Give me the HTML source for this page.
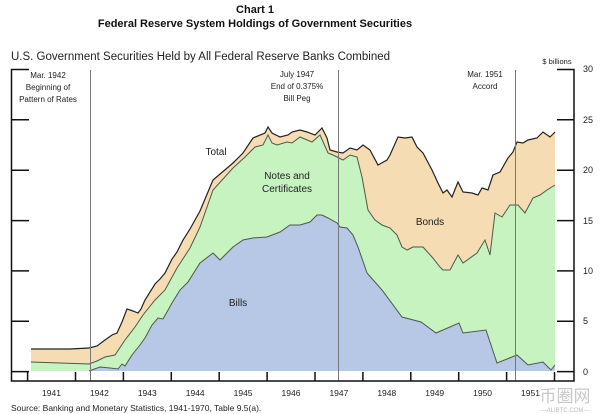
<!DOCTYPE html>
<html><head><meta charset="utf-8"><style>
body{margin:0;background:#fff;}
svg{display:block;font-family:"Liberation Sans",Arial,sans-serif;}
</style></head><body>
<svg width="600" height="414" viewBox="0 0 600 414" xmlns="http://www.w3.org/2000/svg">
<text x="255" y="13" text-anchor="middle" font-size="11" font-weight="bold" fill="#111">Chart 1</text>
<text x="255" y="27" text-anchor="middle" font-size="11" font-weight="bold" fill="#111">Federal Reserve System Holdings of Government Securities</text>
<text x="11" y="60" font-size="11.5" fill="#222">U.S. Government Securities Held by All Federal Reserve Banks Combined</text>
<text x="557" y="64" text-anchor="middle" font-size="7.5" fill="#222">$ billions</text>
<polygon fill="#f6dcb2" points="31,371 31,349 70,349 89,348 97,346 105,340 112,335 117,333 122,322 127,309 133,311 138,313 141,309 145,300 155,284 160,279 165,273 172,259 177,252 183,240 190,229 200,211 213,180 233,163 243,153 253,138 265,133 268,127 272,133 280,137 288,135 292,132 300,130 307,132 315,135 322,128 327,138 330,150 337,152 343,153 350,148 357,150 363,145 370,150 378,165 387,160 390,155 398,137 405,138 412,137 417,147 423,153 432,170 438,183 443,193 447,190 452,197 458,182 463,192 472,193 478,195 482,188 488,190 493,175 500,172 508,158 513,152 517,142 523,143 528,140 537,138 543,132 550,137 555,132 555,371"/>
<polygon fill="#c6f3c0" points="31,371 31,362 89,364 97,361 105,357 115,355 125,340 135,327 143,315 155,300 165,290 177,268 190,248 200,227 213,190 233,168 245,157 255,147 263,145 268,135 272,143 277,145 287,142 292,143 300,137 312,142 320,135 328,153 333,155 343,160 350,155 357,157 362,177 368,210 375,220 382,225 390,228 397,235 402,247 407,250 413,247 423,247 432,257 440,267 443,270 450,270 458,255 463,263 477,253 485,240 490,255 495,213 502,217 510,205 518,205 525,213 533,198 540,195 547,190 555,185 555,371"/>
<polygon fill="#b7c7e6" points="89,371 100,367 110,368 118,369 122,364 125,366 132,355 140,345 145,338 152,325 158,318 163,319 172,303 180,290 188,282 200,263 213,253 220,260 233,247 243,240 253,238 267,237 280,232 290,225 300,225 310,222 317,215 322,215 328,218 337,223 340,227 347,228 353,235 358,247 367,273 382,290 402,317 421,322 436,333 459,323 463,333 486,330 497,363 517,355 528,365 543,362 551,370 555,365 555,371"/>
<polyline fill="none" stroke="#222" stroke-width="1.2" points="31,349 70,349 89,348 97,346 105,340 112,335 117,333 122,322 127,309 133,311 138,313 141,309 145,300 155,284 160,279 165,273 172,259 177,252 183,240 190,229 200,211 213,180 233,163 243,153 253,138 265,133 268,127 272,133 280,137 288,135 292,132 300,130 307,132 315,135 322,128 327,138 330,150 337,152 343,153 350,148 357,150 363,145 370,150 378,165 387,160 390,155 398,137 405,138 412,137 417,147 423,153 432,170 438,183 443,193 447,190 452,197 458,182 463,192 472,193 478,195 482,188 488,190 493,175 500,172 508,158 513,152 517,142 523,143 528,140 537,138 543,132 550,137 555,132"/>
<polyline fill="none" stroke="#4a5a4a" stroke-width="1" points="31,362 89,364 97,361 105,357 115,355 125,340 135,327 143,315 155,300 165,290 177,268 190,248 200,227 213,190 233,168 245,157 255,147 263,145 268,135 272,143 277,145 287,142 292,143 300,137 312,142 320,135 328,153 333,155 343,160 350,155 357,157 362,177 368,210 375,220 382,225 390,228 397,235 402,247 407,250 413,247 423,247 432,257 440,267 443,270 450,270 458,255 463,263 477,253 485,240 490,255 495,213 502,217 510,205 518,205 525,213 533,198 540,195 547,190 555,185"/>
<polyline fill="none" stroke="#4a5a4a" stroke-width="1" points="89,371 100,367 110,368 118,369 122,364 125,366 132,355 140,345 145,338 152,325 158,318 163,319 172,303 180,290 188,282 200,263 213,253 220,260 233,247 243,240 253,238 267,237 280,232 290,225 300,225 310,222 317,215 322,215 328,218 337,223 340,227 347,228 353,235 358,247 367,273 382,290 402,317 421,322 436,333 459,323 463,333 486,330 497,363 517,355 528,365 543,362 551,370 555,365"/>
<g stroke="#777" stroke-width="1">
<line x1="90.5" y1="70" x2="90.5" y2="381"/>
<line x1="338.5" y1="70" x2="338.5" y2="381"/>
<line x1="515.5" y1="70" x2="515.5" y2="381"/>
</g>
<g stroke="#111" stroke-width="1.5" fill="none">
<polyline points="29,69.5 11.5,69.5 11.5,381 574,381 574,69.5 557,69.5"/>
<line x1="11.5" y1="119.8" x2="29" y2="119.8"/><line x1="11.5" y1="170.2" x2="29" y2="170.2"/><line x1="11.5" y1="220.6" x2="29" y2="220.6"/><line x1="11.5" y1="270.9" x2="29" y2="270.9"/><line x1="11.5" y1="321.3" x2="29" y2="321.3"/><line x1="11.5" y1="371.6" x2="29" y2="371.6"/>
<line x1="557" y1="119.8" x2="574" y2="119.8"/><line x1="557" y1="170.2" x2="574" y2="170.2"/><line x1="557" y1="220.6" x2="574" y2="220.6"/><line x1="557" y1="270.9" x2="574" y2="270.9"/><line x1="557" y1="321.3" x2="574" y2="321.3"/><line x1="557" y1="371.6" x2="574" y2="371.6"/>
<path d="M27.6 381v-9M75.5 381v-9M123.4 381v-9M171.3 381v-9M219.2 381v-9M267.1 381v-9M315 381v-9M362.9 381v-9M410.8 381v-9M458.7 381v-9M506.6 381v-9M554.5 381v-9"/>
</g>
<g font-size="9" fill="#222">
<text x="583" y="72">30</text><text x="583" y="123">25</text><text x="583" y="173">20</text><text x="583" y="224">15</text><text x="583" y="274">10</text><text x="583" y="324">5</text><text x="583" y="375">0</text>
</g>
<g font-size="8.5" fill="#222" text-anchor="middle">
<text x="51.5" y="396">1941</text><text x="99.4" y="396">1942</text><text x="147.3" y="396">1943</text><text x="195.2" y="396">1944</text><text x="243.1" y="396">1945</text><text x="291" y="396">1946</text><text x="338.9" y="396">1947</text><text x="386.8" y="396">1948</text><text x="434.7" y="396">1949</text><text x="482.6" y="396">1950</text><text x="530.5" y="396">1951</text>
</g>
<g font-size="8" fill="#222" text-anchor="middle">
<text x="48" y="78">Mar. 1942</text><text x="48" y="90">Beginning of</text><text x="48" y="102">Pattern of Rates</text>
<text x="297" y="77">July 1947</text><text x="297" y="89">End of 0.375%</text><text x="297" y="101">Bill Peg</text>
<text x="485" y="77">Mar. 1951</text><text x="485" y="89">Accord</text>
</g>
<g font-size="10" fill="#222" text-anchor="middle">
<text x="216" y="155">Total</text>
<text x="287" y="179">Notes and</text><text x="287" y="192">Certificates</text>
<text x="430" y="225">Bonds</text>
<text x="238" y="306">Bills</text>
</g>
<text x="11" y="411" font-size="8.5" fill="#222">Source:  Banking and Monetary Statistics, 1941-1970, Table 9.5(a).</text>
<text x="565" y="402" font-size="17" fill="#c8c8c8" text-anchor="middle" font-family="'Noto Sans CJK SC',sans-serif">币圈网</text>
<text x="565" y="412" font-size="6" fill="#bbb" text-anchor="middle">—ALIBTC.COM—</text>
</svg>
</body></html>
